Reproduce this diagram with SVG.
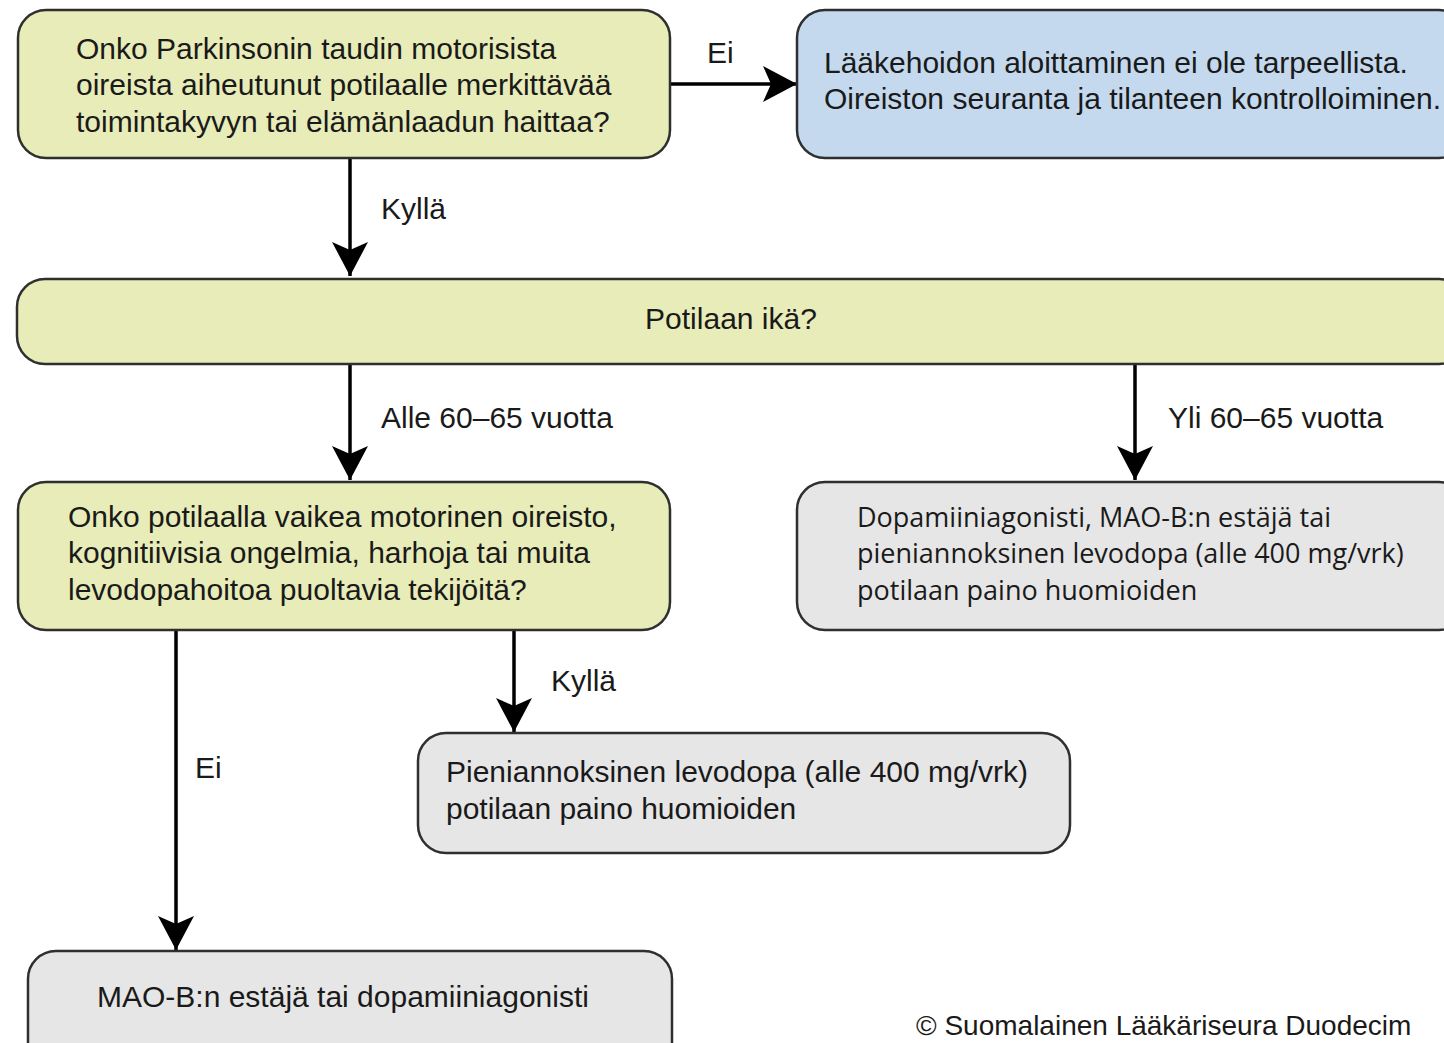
<svg xmlns="http://www.w3.org/2000/svg" width="1444" height="1043" viewBox="0 0 1444 1043">
<defs>
<style>
.box{stroke:#2f2f2f;stroke-width:2.5}
.y{fill:#e7ecb8}
.b{fill:#c4d9ee}
.g{fill:#e6e6e6}
.t{font-family:"Liberation Sans",Arial,sans-serif;font-size:30px;fill:#1a1a1a}
.m{font-family:"Open Sans","Liberation Sans",sans-serif;font-size:27px;fill:#1a1a1a}
.c{stroke:#000;stroke-width:3.5;fill:none}
</style>
<marker id="ah" markerUnits="userSpaceOnUse" markerWidth="44" markerHeight="44" viewBox="0 0 44 44" refX="40" refY="22" orient="auto">
<path d="M40 22 L6 4 L14 22 L6 40 Z" fill="#000"/>
</marker>
</defs>
<rect width="1444" height="1043" fill="#fff"/>
<g id="connectors">
<path class="c" d="M670 84 H797" marker-end="url(#ah)"/>
<path class="c" d="M350 158 V276" marker-end="url(#ah)"/>
<path class="c" d="M350 364 V480" marker-end="url(#ah)"/>
<path class="c" d="M1135 364 V480" marker-end="url(#ah)"/>
<path class="c" d="M514 630 V732" marker-end="url(#ah)"/>
<path class="c" d="M176 630 V950" marker-end="url(#ah)"/>
<text class="t" x="707" y="63">Ei</text>
<text class="t" x="381" y="219">Kyllä</text>
<text class="t" x="381" y="428">Alle 60–65 vuotta</text>
<text class="t" x="1168" y="428">Yli 60–65 vuotta</text>
<text class="t" x="551" y="691">Kyllä</text>
<text class="t" x="195" y="778">Ei</text>
</g>
<g id="q1">
<rect class="box y" x="18" y="10" width="652" height="148" rx="28"/>
<text class="t" x="76" y="59">Onko Parkinsonin taudin motorisista</text>
<text class="t" x="76" y="95">oireista aiheutunut potilaalle merkittävää</text>
<text class="t" x="76" y="132">toimintakyvyn tai elämänlaadun haittaa?</text>
</g>
<g id="noTreatment">
<rect class="box b" x="797" y="10" width="670" height="148" rx="28"/>
<text class="t" x="824" y="73">Lääkehoidon aloittaminen ei ole tarpeellista.</text>
<text class="t" x="824" y="109">Oireiston seuranta ja tilanteen kontrolloiminen.</text>
</g>
<g id="age">
<rect class="box y" x="17" y="279" width="1450" height="85" rx="28"/>
<text class="t" x="731" y="329" text-anchor="middle">Potilaan ikä?</text>
</g>
<g id="q2">
<rect class="box y" x="18" y="482" width="652" height="148" rx="28"/>
<text class="t" x="68" y="527">Onko potilaalla vaikea motorinen oireisto,</text>
<text class="t" x="68" y="563">kognitiivisia ongelmia, harhoja tai muita</text>
<text class="t" x="68" y="600">levodopahoitoa puoltavia tekijöitä?</text>
</g>
<g id="older">
<rect class="box g" x="797" y="482" width="670" height="148" rx="28"/>
<text class="m" x="857" y="527">Dopamiiniagonisti, MAO-B:n estäjä tai</text>
<text class="m" x="857" y="563">pieniannoksinen levodopa (alle 400 mg/vrk)</text>
<text class="m" x="857" y="600">potilaan paino huomioiden</text>
</g>
<g id="lowLevodopa">
<rect class="box g" x="418" y="733" width="652" height="120" rx="28"/>
<text class="t" x="446" y="782">Pieniannoksinen levodopa (alle 400 mg/vrk)</text>
<text class="t" x="446" y="819">potilaan paino huomioiden</text>
</g>
<g id="maob">
<rect class="box g" x="28" y="951" width="644" height="120" rx="28"/>
<text class="t" x="97" y="1007">MAO-B:n estäjä tai dopamiiniagonisti</text>
</g>
<text class="t" x="916" y="1035" style="font-size:28px">© Suomalainen Lääkäriseura Duodecim</text>
</svg>
